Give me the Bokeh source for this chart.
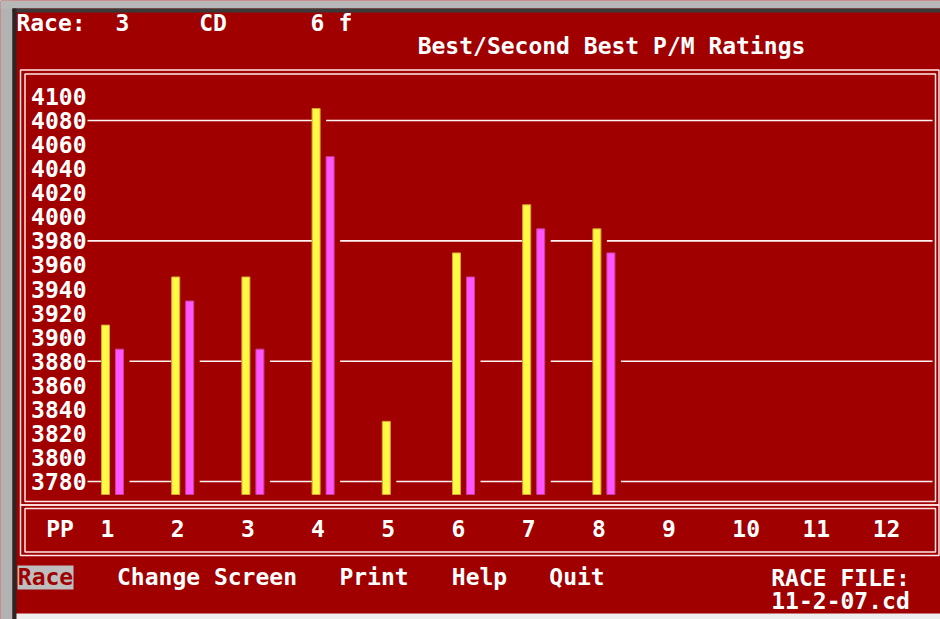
from bokeh.plotting import figure
from bokeh.models import (Range1d, LinearAxis, FixedTicker, Label, BoxAnnotation,
                          ColumnDataSource)
from bokeh.core.properties import value
from bokeh.embed import file_html
from bokeh.resources import INLINE

# ---------------- data ----------------
BEST_PP = [1, 2, 3, 4, 5, 6, 7, 8]
BEST = [3910, 3950, 3950, 4090, 3830, 3970, 4010, 3990]
SECOND_PP = [1, 2, 3, 4, 6, 7, 8]
SECOND = [3890, 3930, 3890, 4050, 3950, 3990, 3970]
PP_POS = [1, 2, 3, 4, 5, 6, 7, 8, 9, 10, 11, 12]
PP_LABELS = ["1", "2", "3", "4", "5", "6", "7", "8", "9", "10", "11", "12"]
Y_TICKS = [3780, 3800, 3820, 3840, 3860, 3880, 3900, 3920, 3940, 3960,
           3980, 4000, 4020, 4040, 4060, 4080, 4100]
GRID_LEVELS = [3780, 3880, 3980, 4080]
HEADER = ["Race:", "3", "CD", "6", "f"]
TITLE = "Best/Second Best P/M Ratings"
MENU = ["Race", "Change Screen", "Print", "Help", "Quit"]
FILE_LINES = ["RACE FILE:", "11-2-07.cd"]

# ---------------- styles / geometry ----------------
RED = "#A00000"
WHITE = "#FFFFFF"
LINE = "#FFE6E6"
YELLOW = "#FFF845"
YELLOW_EDGE = "#D2A832"
PINK = "#FF55FF"
PINK_EDGE = "#C8409C"
FONT = "DejaVu Sans Mono"
FS = "23px"
TXT_SHIFT = 8  # empirical baseline correction

W, H = 940, 619

PX_PER_PP = 70.2
PP1_PAGE_X = 112.0
PX_PER_UNIT = 1.2031
Y0_VAL, Y0_PAGE = 3780, 481.0


def dx(px):
    return 1 + (px - PP1_PAGE_X) / PX_PER_PP


def dy(py):
    return Y0_VAL - (py - Y0_PAGE) / PX_PER_UNIT


def sy(py):
    return H - py


BAR_OFF = 7 / PX_PER_PP
BAR_W = 8 / PX_PER_PP
MASK_W = 14 / PX_PER_PP
BAR_BASE = dy(494)

p = figure(width=W, height=H, output_backend="svg", toolbar_location=None,
           x_range=Range1d(dx(0), dx(W)),
           y_range=Range1d(dy(H), dy(0)),
           x_axis_location=None, y_axis_location=None,
           min_border=0, min_border_left=0, min_border_right=0,
           min_border_top=0, min_border_bottom=0,
           background_fill_color=RED, border_fill_color=RED,
           outline_line_color=None)
p.grid.visible = False


def box(l, t, r, b, fill=None, line=None, lw=1.5):
    p.add_layout(BoxAnnotation(left=l, right=r, top=sy(t), bottom=sy(b),
                               left_units="screen", right_units="screen",
                               top_units="screen", bottom_units="screen",
                               fill_color=fill, fill_alpha=1 if fill else 0,
                               line_color=line, line_width=lw,
                               line_alpha=1 if line else 0))


# window edges
box(0, 0, 12, H, fill="#B2B2B2")
box(0, 0, W, 8, fill="#B8B8B8")
box(12, 8, W, 12, fill="#3A3A3A")
box(12, 8, 16, H, fill="#262626")
box(16, 613, W, H, fill="#EEEEEE")

# double frames: chart box and PP box
box(20, 69.5, 938.5, 504.5, line=LINE)
box(24.5, 73.5, 935, 501, line=LINE)
box(20, 504.5, 938.5, 555, line=LINE)
box(24.5, 508, 935, 551.5, line=LINE)

# grid lines (interrupted by bars through masks)
gx0, gx1 = dx(87), dx(932)
p.segment(x0=[gx0] * len(GRID_LEVELS), x1=[gx1] * len(GRID_LEVELS),
          y0=GRID_LEVELS, y1=GRID_LEVELS, line_color="#FFF2F2", line_width=1.6)

best_x = [v - BAR_OFF for v in BEST_PP]
sec_x = [v + BAR_OFF for v in SECOND_PP]

src_b = ColumnDataSource(dict(x=best_x, top=BEST,
                              ml=[x - BAR_W / 2 for x in best_x],
                              mr=[x - BAR_W / 2 + MASK_W for x in best_x]))
src_s = ColumnDataSource(dict(x=sec_x, top=SECOND,
                              ml=[x - BAR_W / 2 for x in sec_x],
                              mr=[x - BAR_W / 2 + MASK_W for x in sec_x]))

for src in (src_b, src_s):
    p.quad(left="ml", right="mr", top="top", bottom=BAR_BASE, source=src,
           fill_color=RED, line_color=None)

p.vbar(x="x", top="top", bottom=BAR_BASE, width=BAR_W, source=src_b,
       fill_color=YELLOW, line_color=YELLOW_EDGE, line_width=1)
p.vbar(x="x", top="top", bottom=BAR_BASE, width=BAR_W, source=src_s,
       fill_color=PINK, line_color=PINK_EDGE, line_width=1)

# y axis inside the box
yax = LinearAxis(ticker=FixedTicker(ticks=Y_TICKS), fixed_location=dx(88),
                 axis_line_color=None, major_tick_line_color=None,
                 minor_tick_line_color=None, major_tick_in=0, major_tick_out=0,
                 major_label_standoff=2,
                 major_label_text_font=FONT, major_label_text_font_size=FS,
                 major_label_text_font_style="bold",
                 major_label_text_color=WHITE)
p.add_layout(yax, "left")

# PP row
p.text(x=PP_POS, y=[dy(536 - TXT_SHIFT)] * len(PP_POS), text=PP_LABELS,
       x_offset=-12, text_align="left", text_baseline="alphabetic",
       text_font=value(FONT), text_font_size=FS, text_font_style="bold",
       text_color=WHITE)


def label(txt, cx, base, color=WHITE, align="center"):
    p.add_layout(Label(x=cx, y=sy(base - TXT_SHIFT), x_units="screen",
                       y_units="screen",
                       text=txt, text_align=align, text_baseline="alphabetic",
                       text_font=FONT, text_font_size=FS, text_font_style="bold",
                       text_color=color))


label("PP", 59.5, 536)

for txt, cx in zip(HEADER, [50.5, 122, 212.5, 317, 345]):
    label(txt, cx, 30)
label(TITLE, 611, 53.5)

# menu highlight
box(17, 565, 73, 589, fill="#BEBEBE")
for i, (txt, cx) in enumerate(zip(MENU, [45, 206.5, 373.5, 479, 576.5])):
    label(txt, cx, 584, color=RED if i == 0 else WHITE)
label(FILE_LINES[0], 840, 585)
label(FILE_LINES[1], 840, 608)

open("out.html", "w").write(file_html(p, INLINE))
